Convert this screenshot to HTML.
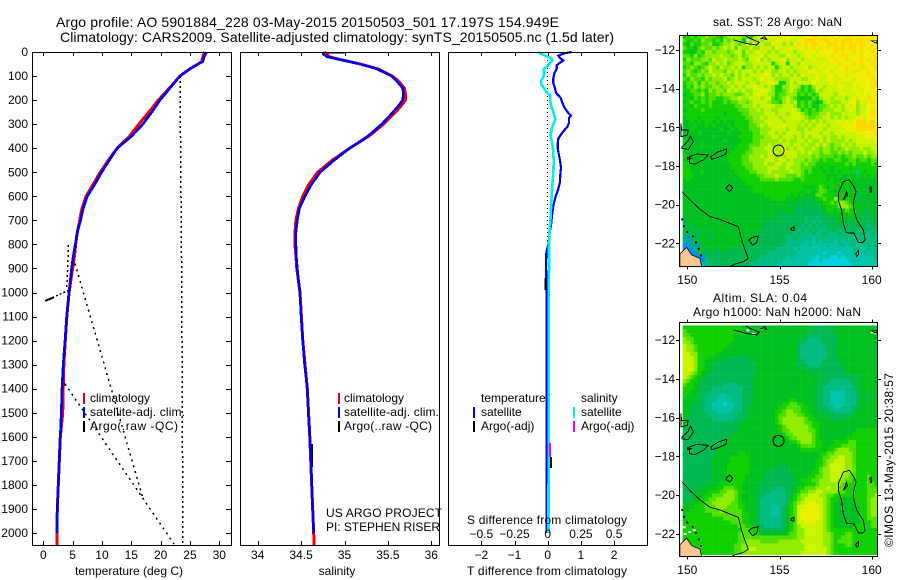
<!DOCTYPE html>
<html>
<head>
<meta charset="utf-8">
<title>Argo profile chart</title>
<style>
html,body{margin:0;padding:0;background:#fff;width:900px;height:580px;overflow:hidden}
svg{display:block}
text{font-family:"Liberation Sans",sans-serif;font-size:12px;fill:#000}
.title{font-size:14px}
</style>
</head>
<body>
<svg id="chart" xmlns="http://www.w3.org/2000/svg" width="900" height="580" viewBox="0 0 900 580">
<defs>
<clipPath id="clip-sst"><rect x="679.5" y="35.5" width="198" height="231"/></clipPath>
<clipPath id="clip-sla"><rect x="679.5" y="322.5" width="198" height="234"/></clipPath>
</defs>
<text class="title" x="56" y="27" textLength="503">Argo profile: AO 5901884_228 03-May-2015 20150503_501 17.197S 154.949E</text>
<text class="title" x="60" y="42" textLength="554">Climatology: CARS2009. Satellite-adjusted climatology: synTS_20150505.nc (1.5d later)</text>

<g id="panel-temp"></g>
<g id="panel-sal"></g>
<g id="panel-diff"></g>
<g id="map-sst"></g>
<g id="map-sla"></g>

<text x="129" y="575" text-anchor="middle">temperature (deg C)</text>
<text x="337" y="575" text-anchor="middle">salinity</text>
<text x="467" y="575" textLength="160">T difference from climatology</text>
<text x="467" y="524" textLength="160">S difference from climatology</text>

<text x="90" y="402">climatology</text>
<text x="90" y="416" textLength="95">satellite-adj. clim.</text>
<text x="90" y="430" textLength="88">Argo(.raw -QC)</text>
<text x="344" y="402">climatology</text>
<text x="344" y="416" textLength="95">satellite-adj. clim.</text>
<text x="344" y="430" textLength="88">Argo(..raw -QC)</text>
<text x="326" y="517" textLength="116">US ARGO PROJECT</text>
<text x="326" y="531" textLength="114">PI: STEPHEN RISER</text>
<text x="481" y="402">temperature</text>
<text x="481" y="416">satellite</text>
<text x="481" y="430">Argo(-adj)</text>
<text x="581" y="402">salinity</text>
<text x="581" y="416">satellite</text>
<text x="581" y="430">Argo(-adj)</text>

<text x="713" y="26" textLength="129">sat. SST: 28 Argo: NaN</text>
<text x="713" y="302" textLength="94">Altim. SLA: 0.04</text>
<text x="693" y="316" textLength="168">Argo h1000: NaN h2000: NaN</text>
<text transform="translate(893,547) rotate(-90)" x="0" y="0" textLength="174">©IMOS 13-May-2015 20:38:57</text>
</svg>
<script>
const depthTicks = [0,100,200,300,400,500,600,700,800,900,1000,1100,1200,1300,1400,1500,1600,1700,1800,1900,2000];
const tempTicks = [0,5,10,15,20,25,30];
const salTicks = [34,34.5,35,35.5,36];
const salTickLabels = ['34','34.5','35','35.5','36'];
const tDiffTicks = [-2,-1,0,1,2];
const sDiffTicks = [-0.5,-0.25,0,0.25,0.5];
const sDiffTickLabels = ['−0.5','−0.25','0','0.25','0.5'];
const mapLonTicks = [150,155,160];
const mapLatTicks = [-12,-14,-16,-18,-20,-22];

const tempDepth = [0,20,40,50,70,100,150,200,250,300,350,400,450,500,550,600,650,700,750,800,850,900,1000,1100,1200,1300,1400,1500,1600,1700,1800,1900,2000];
const tempSat = [27.84,27.4,27.2,26.4,25.0,23.3,21.6,19.9,18.5,17.0,15.05,12.6,11.25,9.94,8.8,7.5,6.8,6.36,5.8,5.45,5.1,4.83,4.38,3.98,3.7,3.4,3.18,3.07,2.9,2.73,2.56,2.39,2.33];
const tempClimDepth = [0,20,40,50,70,100,150,200,250,300,350,400,450,500,550,600,650,700,750,800,850,900,1000,1100,1200,1300,1400,1500,1600,1700,1800,1900,2000,2050];
const tempClim = [27.5,27.2,27.0,26.4,25.0,23.3,21.5,19.6,18.0,16.3,14.7,12.6,11.1,9.7,8.5,7.3,6.6,6.2,5.8,5.5,5.3,5.0,4.4,4.0,3.75,3.5,3.4,3.3,2.9,2.73,2.56,2.39,2.33,2.33];
const rawTempA = [23.3,23.6,23.8];
const rawDepthA = [100,1000,2050];
const rawTempB = [5.4,16.9];
const rawDepthB = [880,1850];
const rawTempC = [3.7,22.4];
const rawDepthC = [1380,2050];
const rawTempD = [4.3,4.0];
const rawDepthD = [803,990];
const rawTempE = [0.3,4.4];
const rawDepthE = [1035,990];
const rawTempF = [0.3,1.8];
const rawDepthF = [1035,1020];

const salDepth = [0,10,20,30,40,50,70,100,120,150,170,200,220,250,300,350,400,450,500,550,600,650,700,750,800,850,900,950,1000,1100,1200,1300,1400,1500,1600,1700,1800,1900,2000];
const salSat = [34.75,34.76,34.80,34.93,35.06,35.18,35.37,35.54,35.60,35.67,35.68,35.67,35.63,35.56,35.43,35.27,35.06,34.88,34.72,34.62,34.545,34.48,34.456,34.44,34.44,34.445,34.456,34.47,34.487,34.50,34.52,34.54,34.571,34.583,34.60,34.614,34.622,34.634,34.645];
const salClimDepth = [0,20,30,50,70,100,120,150,170,200,220,250,300,350,400,450,500,550,600,650,700,750,800,900,1000,1200,1400,1600,1800,2000,2050];
const salClim = [34.77,34.83,34.93,35.18,35.38,35.55,35.62,35.69,35.70,35.70,35.66,35.59,35.45,35.28,35.06,34.86,34.69,34.59,34.52,34.47,34.44,34.43,34.43,34.45,34.487,34.52,34.571,34.60,34.622,34.645,34.65];
const salArgoDepthA = [1630,1725];
const salArgoA = [34.62,34.62];
const salArgoDepthB = [2,2];
const salArgoB = [34.8,35.0];

const diffDepth = [0,5,15,25,35,45,55,70,90,110,130,150,170,190,210,230,250,265,275,295,310,330,345,360,380,400,430,450,480,510,540,570,600,640,680,720,750,800,830,880,950,1000,2000];
const tDiffSat = [0.72,0.52,0.32,0.37,0.47,0.37,0.27,0.27,0.2,0.17,0.17,0.22,0.25,0.39,0.44,0.5,0.6,0.7,0.64,0.64,0.6,0.47,0.39,0.32,0.3,0.3,0.34,0.37,0.4,0.38,0.37,0.32,0.24,0.17,0.13,0.1,0.06,0.02,-0.04,-0.05,-0.04,-0.03,-0.03];
const sDiffDepth = [0,5,15,25,35,45,55,70,90,105,120,135,150,165,180,200,220,250,280,300,320,345,370,400,450,500,550,600,650,700,750,800,900,1000,2000];
const sDiffSat = [-0.075,-0.058,-0.02,0.025,0.035,0.018,0.005,-0.028,-0.028,-0.033,-0.05,-0.05,-0.028,-0.013,0.018,0.018,0.025,0.043,0.058,0.043,0.03,0.02,0.03,0.04,0.045,0.043,0.035,0.03,0.025,0.02,0.013,0.01,0.01,0.008,0.006];
const tDiffArgoDepthA = [940,990];
const tDiffArgoA = [-0.07,-0.07];
const tDiffArgoDepthB = [1684,1730];
const tDiffArgoB = [0.1,0.1];
const sDiffArgoDepth = [1626,1684];
const sDiffArgo = [0.018,0.018];
const zeroLineDepth = [0,800];
const zeroLineValue = [0,0];

const colourScale = {'0':'#00d0e0','1':'#00c4a8','2':'#00bc80','3':'#00b850','4':'#00c020','5':'#10d000','6':'#50e000','7':'#90ec00','8':'#c8f400','9':'#ecf000','a':'#ffd800','b':'#0090f0','c':'#00a8f0'};

const sstGrid = [
"5565667665 4677776647 8898888999 88899aa9a9 a9a9aa9aaa 9a9",
"6556576656 5767774678 8788899898 899aaa9aaa 9a9aaa9aa9 a99",
"5465566755 6778767877 8877988787 9a9a9aa99a aa9a9aa9a9 9a9",
"6554676676 7878687787 7888798889 89989a9a9a 9aaa9aa9a9 a9a",
"5545657767 7767886878 9887878988 7889998999 9a9a99a9a9 9a9",
"6657567777 8776786788 8978887798 8789989999 a99aa999a9 99a",
"5766677687 7877787688 9787888978 8978898889 9a99a999a9 a9a",
"6657765778 7867888778 8888578858 8798889898 99a999a9a9 9a9",
"5676567876 8778785778 7878857887 8889788989 9899a9998a 99a",
"6765676877 7687878887 8788778878 7888998899 8999a98a99 a99",
"5766767787 8776878788 8899787887 8798889889 9899899999 a99",
"6576657677 7867878887 8988877778 8877889889 9889998999 9a9",
"5667576776 7787888788 7889985578 7888898888 9898889999 99a",
"4657676677 6778787889 8878755778 8756578878 8899889899 9a9",
"5566565767 7687878778 8998755678 7656568788 8898889989 99a",
"4556675667 6777667878 9887756677 7565656888 8789888999 899",
"5546565665 5667787788 8789656787 6545465788 7888789899 a99",
"4565565655 5656677678 8887665787 8565654578 7778899798 9a9",
"5546555655 5555667778 7888877888 7565645667 8787989788 999",
"4555565555 5555566677 8788778888 8756565677 7887898788 9a9",
"5555555555 5455556677 7788878878 8876566778 7778888789 9a9",
"4555455554 5555555667 7878887888 8887667788 7878788998 999",
"4454545545 4544555567 7788888788 8878787878 8898989aaa 9a9",
"4445445454 4454555566 7878888988 8787878887 8889999aaa aa9",
"4454444444 5445455566 6777888878 8778788878 8888999aaa aa9",
"4444544444 4454445556 6778878788 8878888788 7888888999 99a",
"4444444454 4444455556 6677887888 7878788878 7787888889 999",
"5444444444 4544445556 6777778787 7887877878 7777878888 889",
"4444454444 4444455566 6778787887 8878778787 6778787888 888",
"5444444444 4444555567 7788878878 7887787677 6767877787 788",
"4445444444 4445555667 7778887988 8787877677 6676767778 778",
"5444444444 4455556677 7878878788 8777767666 6565667667 677",
"4444454444 4455556677 7788878878 7776766565 5665566566 566",
"5544444444 4445556667 7787788788 7767665555 5555656555 565",
"5544444444 4445555667 7778887787 7766655455 4555545555 555",
"5544454444 4444555566 7778777778 7765655545 4545555154 555",
"5554444444 4444455555 6677787766 6765555554 4454444545 454",
"4544444444 4444445555 5666676666 5565555554 5444454444 444",
"4444444444 4444444555 5555555555 5555555555 5454544444 444",
"4444444444 4444444445 5555555555 5554445654 5544544444 444",
"4444444444 4444444445 5555555555 5545545665 4454445444 444",
"4444444444 4444444444 4455555554 5454446655 5445444344 434",
"4444444444 4444444444 4444555544 4434344565 5754554343 444",
"4444444444 4444444444 4444444444 4343434455 6577654444 344",
"4444444444 4444444444 4444444443 4333333445 5567765444 443",
"4444444444 4444444444 4444443444 3333333345 5454654443 344",
"4444444444 4444444444 4444443334 3333333334 4445454433 434",
"3444444444 4444444444 4344343333 3332332333 3444444433 343",
"3444444444 4444444444 4433333333 3332323233 3344333433 333",
"3434444444 4444444444 4433333333 3323232323 3333333333 233",
"3343444444 4444444444 4333333333 3232323223 3323233323 323",
"3343344344 4444444444 3333333333 2322232232 2232323232 232",
"3b33444344 4444444444 3333333322 3222212222 2222222222 222",
"2b33344444 4444444443 3333333322 2221212122 2121222222 222",
"bb3b344444 4444443333 3333333222 2211211112 1122122122 222",
"bbb3334434 4443333333 3333322222 1211111111 1111112211 222",
"bbbb333333 3333333333 3332222222 2111111101 1101112112 122",
"cccbbb3333 3333333333 3222222212 1111110111 0010111111 112",
"cccbbb2333 3333333333 2222222111 1111100100 0000011111 111",
"cccbb12233 3333333322 2222221111 1111000000 0000001111 111"
];

const slaGrid = [
"5555555555 5555554444 4444444444 4444433333 4444444444 444",
"6555555555 5555544444 4444444444 4444333333 3444444444 444",
"6655555555 5555444444 4444444444 4443333333 3344444444 444",
"7665555555 5555444444 4444444444 4433222333 3344444444 444",
"7765555555 5554444444 4444444444 4332222233 3344444444 444",
"8776555555 5544444444 4444444444 4322222223 3344444444 444",
"8776555555 5444444444 4444444444 4322222223 3344444444 444",
"8877555554 4444444444 4444444444 4322222223 3344444444 444",
"8887555444 4433333344 4444444444 4322222223 3344444444 444",
"8887554443 3333333334 4444444444 4332222233 3344444444 444",
"8887554433 3333333333 4444444444 4333222333 3334444444 444",
"8887554433 3333333333 4444444444 4443333333 3333444444 444",
"8876544333 3333333334 4444444444 4444433333 3333344444 444",
"8765443333 3333333334 4444444444 4444444433 3333333344 444",
"7655433333 3333333334 4444444444 4444444333 2222233444 444",
"6554433333 3222233334 4444444444 4444443332 2222223344 444",
"5554333322 2222223334 4444444444 4444443322 2221223344 444",
"5544333222 2222223334 4444444444 4444443322 1111222344 444",
"5444332222 1122223334 4444444444 4444443322 1111222344 344",
"4444332221 1112223334 4444444445 5444443322 1111222344 344",
"4443332211 1011223334 4444444556 6554443322 1111222344 444",
"4433332211 1111223344 4444445566 6655443332 2112223344 444",
"4433332221 1112223344 4444455677 6655444333 2222223444 444",
"4433333222 2222233344 4444456677 7665544433 3333334444 444",
"4333333322 2222333444 4444456777 7776554444 3333444444 444",
"4333333333 3333334444 4444456777 7776655444 4444444444 444",
"4333333333 3333344444 4444445677 7777655444 4444444444 444",
"3333333333 3333344444 4444445667 7777665444 4444444555 555",
"3333333333 3334444444 4444444566 7777765444 4444445555 555",
"3333333333 3344444444 4444444456 6777765444 4444555555 555",
"3333333333 3444444444 4444444445 5677765544 4555566555 555",
"3333333333 4444444444 4444444444 4566665544 5556666555 555",
"3333333334 4444444444 4444444444 4455555445 5677766555 555",
"3333333334 4444455444 4444444444 4444444556 6777776555 555",
"3333333344 4445555544 4444444444 4444444566 7788776555 555",
"3333333344 4445555544 4444444444 4444445567 7888776555 555",
"3333333344 4455555544 4444443344 4444445567 8888776555 555",
"3333333344 4455555544 4444333334 4444445677 8888776555 555",
"3333333344 4455555544 4443333334 4444455677 8888776555 555",
"3333333344 4455555444 4433333333 4444556677 8887766555 655",
"3333333344 4455555444 4433333333 4455566777 8877665555 655",
"3333334444 5555554444 4333333333 4445556777 7776655555 665",
"3333344445 5666554444 3333322333 4556667778 7766555555 666",
"3333444555 6677655444 3333222233 4566778877 7766555555 666",
"3334445566 6777654444 3322222234 5677888776 6555555555 667",
"3344455667 7777654444 3222222234 5678888876 5544445555 677",
"4444556677 7776655444 3222222235 6788998876 5444444555 677",
"4445556667 7766655444 3222112345 6889999876 5444444455 677",
"4455556666 7666665444 3222112345 6899999876 5444444455 677",
"4555555566 6666665544 3222112345 6899999876 5444444455 677",
"4555555555 5666665544 3222222345 6899999876 5444444455 666",
"5555555555 5556665544 3222222345 6889998876 5444444455 566",
"5555555555 5555566554 3322222345 6788888876 5444445555 566",
"5555555555 5555556655 4333333345 6778888876 5555555555 555",
"5555555555 5555566665 5444444456 6778888877 6555665555 555",
"5555555555 5555566666 6666666666 6778888877 6556665555 555",
"5555555555 5555566777 7666667777 7788888877 6566665555 555",
"5555555555 5555667777 7777777777 7778888877 6555665555 555",
"5555555555 5555667788 7777777777 7778888887 6555555555 555",
"5555555555 5555667777 7777777777 7788888887 6555555555 555"
];

const coastOpen = [
[[149.71,-19.33],[150.24,-19.84],[150.69,-20.24],[151.23,-20.62],[151.77,-20.76],[152.31,-20.97],[152.77,-21.14],[152.95,-21.83],[153.13,-22.34],[153.31,-22.78],[153.04,-22.95],[152.59,-23.07],[152.28,-23.21]],
[[152.5,-11.48],[153.18,-11.66],[153.76,-11.74],[153.9,-11.6],[153.4,-11.4],[153.18,-11.28]]
];
const coastClosed = [
[[150.11,-17.52],[150.51,-17.38],[151.14,-17.43],[150.87,-17.69],[150.42,-17.9],[150.11,-17.86]],
[[151.27,-17.52],[151.68,-17.26],[152.13,-17.12],[152.1,-17.38],[151.68,-17.55],[151.32,-17.66]],
[[149.71,-17.09],[150.05,-17.14],[150.33,-16.74],[150.18,-16.45],[150.02,-16.74],[149.71,-17.0]],
[[149.66,-15.79],[149.66,-16.48],[150,-16.4],[150.05,-16.14],[149.69,-16.14]],
[[150,-17.55],[150.2,-17.6],[150,-17.66]],
[[152.1,-19.16],[152.28,-18.95],[152.46,-19.12],[152.31,-19.33]],
[[155.62,-21.22],[155.78,-21.14],[155.78,-21.34],[155.62,-21.31]],
[[153.33,-21.83],[153.54,-21.69],[153.85,-21.62],[153.76,-21.97],[153.54,-22.09]],
[[158.46,-18.81],[158.79,-18.72],[159.04,-19.07],[159.15,-19.33],[159.01,-19.84],[159.04,-20.28],[159.19,-20.79],[159.55,-21.31],[159.64,-21.83],[159.51,-21.95],[159.28,-21.95],[159.04,-21.48],[158.64,-21.45],[158.46,-20.97],[158.37,-20.28],[158.19,-19.76],[158.19,-19.41]],
[[158.46,-19.76],[158.64,-19.33],[158.68,-19.5]],
[[159.91,-19.12],[159.98,-19.07],[160.0,-19.33],[159.93,-19.36]],
[[159.15,-22.52],[159.28,-22.38],[159.28,-22.6],[159.17,-22.69]],
[[159.95,-11.52],[160.27,-11.66],[160.3,-11.52]],
[[154,-11.4],[154.2,-11.31],[154.3,-11.45]]
];
const landOutline = [[149.6,-23.21],[149.6,-22.55],[149.96,-22.21],[150.24,-22.6],[150.69,-22.78],[150.78,-23.21]];
const reefDashes = [[149.71,-20.71],[149.87,-21.31],[150.33,-21.66],[150.69,-22.43],[150.78,-22.78]];
const maskSpecksBoth = [[153.2,-11.45],[153.5,-11.65],[154.0,-11.35],[159.95,-11.55],[160.15,-11.6]];
const maskSpecksSla = [[150.05,-21.85],[149.75,-21.6],[149.8,-21.95],[150.3,-21.75]];
const argoLon = 154.949;
const argoLat = -17.197;

const NS = 'http://www.w3.org/2000/svg';
function mk(parent, tag, attrs, name){
  const el = document.createElementNS(NS, tag);
  for (const k in attrs) el.setAttribute(k, attrs[k]);
  
  
  parent.appendChild(el);
  return el;
}
function label(parent, x, y, str, anchor, name){
  const t = mk(parent, 'text', {x:x, y:y, 'text-anchor':anchor}, name);
  t.textContent = str;
  return t;
}
function crisp(v){ return Math.round(v) + 0.5; }
const yDepth = d => 52 + d * 0.2405;
const xTemp = v => 43.3 + v * 5.867;
const xSal = v => 257.7 + (v - 34) * 86.8;
const xTDiff = v => 547.7 + v * 33.2;
const xSDiff = v => 547.7 + v * 132.8;

function series(parent, xs, ds, xf, stroke, width, name, dash){
  const pts = xs.map((v, i) => xf(v).toFixed(1) + ',' + yDepth(ds[i]).toFixed(1)).join(' ');
  const a = {points:pts, fill:'none', stroke:stroke, 'stroke-width':width, 'shape-rendering':'crispEdges'};
  if (dash) a['stroke-dasharray'] = dash;
  mk(parent, 'polyline', a, name);
}
function frame(parent, x0, x1, name){
  mk(parent, 'rect', {x:x0 + 0.5, y:52.5, width:x1 - x0, height:493, fill:'none', stroke:'#000', 'stroke-width':1, 'shape-rendering':'crispEdges'}, name);
}
function xTicks(parent, ticks, xf, name){
  ticks.forEach(v => {
    const x = crisp(xf(v));
    mk(parent, 'line', {x1:x, x2:x, y1:52, y2:56, stroke:'#000', 'shape-rendering':'crispEdges'}, name + '-top');
    mk(parent, 'line', {x1:x, x2:x, y1:545, y2:541, stroke:'#000', 'shape-rendering':'crispEdges'}, name + '-bottom');
  });
}
function legendMark(parent, x, y, colour, name){
  mk(parent, 'rect', {x:x, y:y, width:2, height:11, fill:colour}, name);
}

/* temperature panel */
const pT = document.getElementById('panel-temp');
series(pT, tempClim, tempClimDepth, xTemp, '#f00000', 3, 'temperature-climatology-line');
series(pT, rawTempA, rawDepthA, xTemp, '#000', 1.5, 'argo-raw-temperature-a', '2 3');
series(pT, rawTempB, rawDepthB, xTemp, '#000', 1.5, 'argo-raw-temperature-b', '2 4');
series(pT, rawTempC, rawDepthC, xTemp, '#000', 1.5, 'argo-raw-temperature-c', '2 4');
series(pT, rawTempD, rawDepthD, xTemp, '#000', 1.5, 'argo-raw-temperature-d', '2 3');
series(pT, rawTempE, rawDepthE, xTemp, '#000', 1.5, 'argo-raw-temperature-e', '2 2');
series(pT, rawTempF, rawDepthF, xTemp, '#000', 2, 'argo-qc-temperature-spike');
series(pT, tempSat, tempDepth, xTemp, '#0000f0', 2.6, 'temperature-satellite-line');
frame(pT, 32, 231, 'temperature-plot-frame');
xTicks(pT, tempTicks, xTemp, 'temperature-x-tick');
tempTicks.forEach(v => { label(pT, xTemp(v), 559, String(v), 'middle', 'temperature-tick-label'); });
depthTicks.forEach(d => {
  const y = crisp(yDepth(d));
  mk(pT, 'line', {x1:32, x2:37, y1:y, y2:y, stroke:'#000', 'shape-rendering':'crispEdges'}, 'depth-tick-left');
  mk(pT, 'line', {x1:231, x2:226, y1:y, y2:y, stroke:'#000', 'shape-rendering':'crispEdges'}, 'depth-tick-right');
  label(pT, 28, yDepth(d) + 4, String(d), 'end', 'depth-tick-label');
});
legendMark(pT, 83, 393, '#f00000', 'legend-mark-temp-climatology');
legendMark(pT, 83, 407, '#0000f0', 'legend-mark-temp-satellite');
legendMark(pT, 83, 421, '#000', 'legend-mark-temp-argo');

/* salinity panel */
const pS = document.getElementById('panel-sal');
series(pS, salClim, salClimDepth, xSal, '#f00000', 3, 'salinity-climatology-line');
series(pS, salArgoB, salArgoDepthB, xSal, '#000', 1.5, 'argo-salinity-surface');
series(pS, salArgoA, salArgoDepthA, xSal, '#000', 3, 'argo-salinity-deep');
series(pS, salSat, salDepth, xSal, '#0000f0', 2.6, 'salinity-satellite-line');
frame(pS, 240, 439, 'salinity-plot-frame');
xTicks(pS, salTicks, xSal, 'salinity-x-tick');
salTicks.forEach((v, i) => { label(pS, xSal(v), 559, salTickLabels[i], 'middle', 'salinity-tick-label'); });
legendMark(pS, 338, 393, '#f00000', 'legend-mark-sal-climatology');
legendMark(pS, 338, 407, '#0000f0', 'legend-mark-sal-satellite');
legendMark(pS, 338, 421, '#000', 'legend-mark-sal-argo');

/* difference panel */
const pD = document.getElementById('panel-diff');
series(pD, zeroLineValue, zeroLineDepth, xTDiff, '#000', 1, 'zero-difference-line', '1 3');
series(pD, tDiffSat, diffDepth, xTDiff, '#0000f0', 2.2, 't-difference-satellite-line');
series(pD, sDiffSat, sDiffDepth, xSDiff, '#00f0f0', 2.6, 's-difference-satellite-line');
series(pD, tDiffArgoA, tDiffArgoDepthA, xTDiff, '#000', 2, 't-difference-argo-a');
series(pD, sDiffArgo, sDiffArgoDepth, xSDiff, '#f000f0', 2, 's-difference-argo');
series(pD, tDiffArgoB, tDiffArgoDepthB, xTDiff, '#000', 2, 't-difference-argo-b');
frame(pD, 448, 647, 'difference-plot-frame');
xTicks(pD, tDiffTicks, xTDiff, 'difference-x-tick');
tDiffTicks.forEach(v => { label(pD, xTDiff(v), 559, String(v).replace('-', '−'), 'middle', 't-difference-tick-label'); });
sDiffTicks.forEach((v, i) => { label(pD, xSDiff(v), 538, sDiffTickLabels[i], 'middle', 's-difference-tick-label'); });
legendMark(pD, 473, 407, '#0000f0', 'legend-mark-diff-t-satellite');
legendMark(pD, 473, 421, '#000', 'legend-mark-diff-t-argo');
legendMark(pD, 573, 407, '#00f0f0', 'legend-mark-diff-s-satellite');
legendMark(pD, 573, 421, '#f000f0', 'legend-mark-diff-s-argo');

/* maps */
function drawMap(gId, prefix, grid, clipId, lat12Y, latPx, latTop, latStep, frameTop, frameBottom, lonLabelY, specks){
  const g = document.getElementById(gId);
  const xLon = v => 687.3 + (v - 150) * 18.44;
  const yLat = v => lat12Y + (-12 - v) * latPx;
  mk(g, 'rect', {x:679.5, y:frameTop, width:198, height:frameBottom - frameTop, fill:'#fff'}, prefix + '-background');
  const cells = mk(g, 'g', {'clip-path':'url(#' + clipId + ')'}, prefix + '-field');
  const rows = grid.map(r => r.replace(/ /g, ''));
  rows.forEach((row, r) => {
    for (let c = 0; c < row.length; c++) {
      const cell = document.createElementNS(NS, 'rect');
      cell.setAttribute('x', xLon(149.75 + c * 0.2).toFixed(2));
      cell.setAttribute('y', yLat(latTop - r * latStep).toFixed(2));
      cell.setAttribute('width', (0.2 * 18.44 + 0.2).toFixed(2));
      cell.setAttribute('height', (latStep * latPx + 0.2).toFixed(2));
      cell.setAttribute('fill', colourScale[row[c]]);
      
      
      cells.appendChild(cell);
    }
  });
  const toPts = arr => arr.map(p => xLon(p[0]).toFixed(1) + ',' + yLat(p[1]).toFixed(1)).join(' ');
  const over = mk(g, 'g', {'clip-path':'url(#' + clipId + ')'}, prefix + '-overlays');
  specks.forEach(p => {
    mk(over, 'rect', {x:xLon(p[0]), y:yLat(p[1]), width:3, height:2, fill:'#fff'}, 'land-mask-speck');
  });
  mk(over, 'polygon', {points:toPts(landOutline), fill:'#ffc890', stroke:'#000', 'stroke-width':0.8}, prefix + '-land');
  mk(over, 'polyline', {points:toPts(reefDashes), fill:'none', stroke:'#000', 'stroke-width':2, 'stroke-dasharray':'2 5', 'shape-rendering':'crispEdges'}, prefix + '-reef-dashes');
  coastOpen.forEach(line => {
    mk(over, 'polyline', {points:toPts(line), fill:'none', stroke:'#000', 'stroke-width':0.9, 'shape-rendering':'crispEdges'}, 'bathymetry-contour');
  });
  coastClosed.forEach(line => {
    mk(over, 'polygon', {points:toPts(line), fill:'none', stroke:'#000', 'stroke-width':0.9, 'shape-rendering':'crispEdges'}, 'bathymetry-contour');
  });
  mk(over, 'circle', {cx:xLon(argoLon), cy:yLat(argoLat), r:5.5, fill:'none', stroke:'#000', 'stroke-width':1}, prefix + '-argo-location');
  mk(g, 'rect', {x:679.5, y:frameTop, width:198, height:frameBottom - frameTop, fill:'none', stroke:'#000', 'shape-rendering':'crispEdges'}, prefix + '-frame');
  mapLonTicks.forEach(v => {
    const x = crisp(xLon(v));
    mk(g, 'line', {x1:x, x2:x, y1:frameTop, y2:frameTop - 3, stroke:'#000', 'shape-rendering':'crispEdges'}, prefix + '-lon-tick-top');
    mk(g, 'line', {x1:x, x2:x, y1:frameBottom, y2:frameBottom + 3, stroke:'#000', 'shape-rendering':'crispEdges'}, prefix + '-lon-tick-bottom');
    label(g, xLon(v), lonLabelY, String(v), 'middle', prefix + '-lon-label');
  });
  mapLatTicks.forEach(v => {
    const y = crisp(yLat(v));
    mk(g, 'line', {x1:679.5, x2:676, y1:y, y2:y, stroke:'#000', 'shape-rendering':'crispEdges'}, prefix + '-lat-tick-left');
    mk(g, 'line', {x1:877.5, x2:881, y1:y, y2:y, stroke:'#000', 'shape-rendering':'crispEdges'}, prefix + '-lat-tick-right');
    label(g, 675, yLat(v) + 4, String(v).replace('-', '−'), 'end', prefix + '-lat-label');
  });
}
drawMap('map-sst', 'sst-map', sstGrid, 'clip-sst', 50, 19.33, -11.2, 0.2, 35.5, 266.5, 284, maskSpecksBoth);
drawMap('map-sla', 'sla-map', slaGrid, 'clip-sla', 340, 19.4, -11.25, 0.197, 322.5, 556.5, 574, maskSpecksBoth.concat(maskSpecksSla));
</script>
</body>
</html>
